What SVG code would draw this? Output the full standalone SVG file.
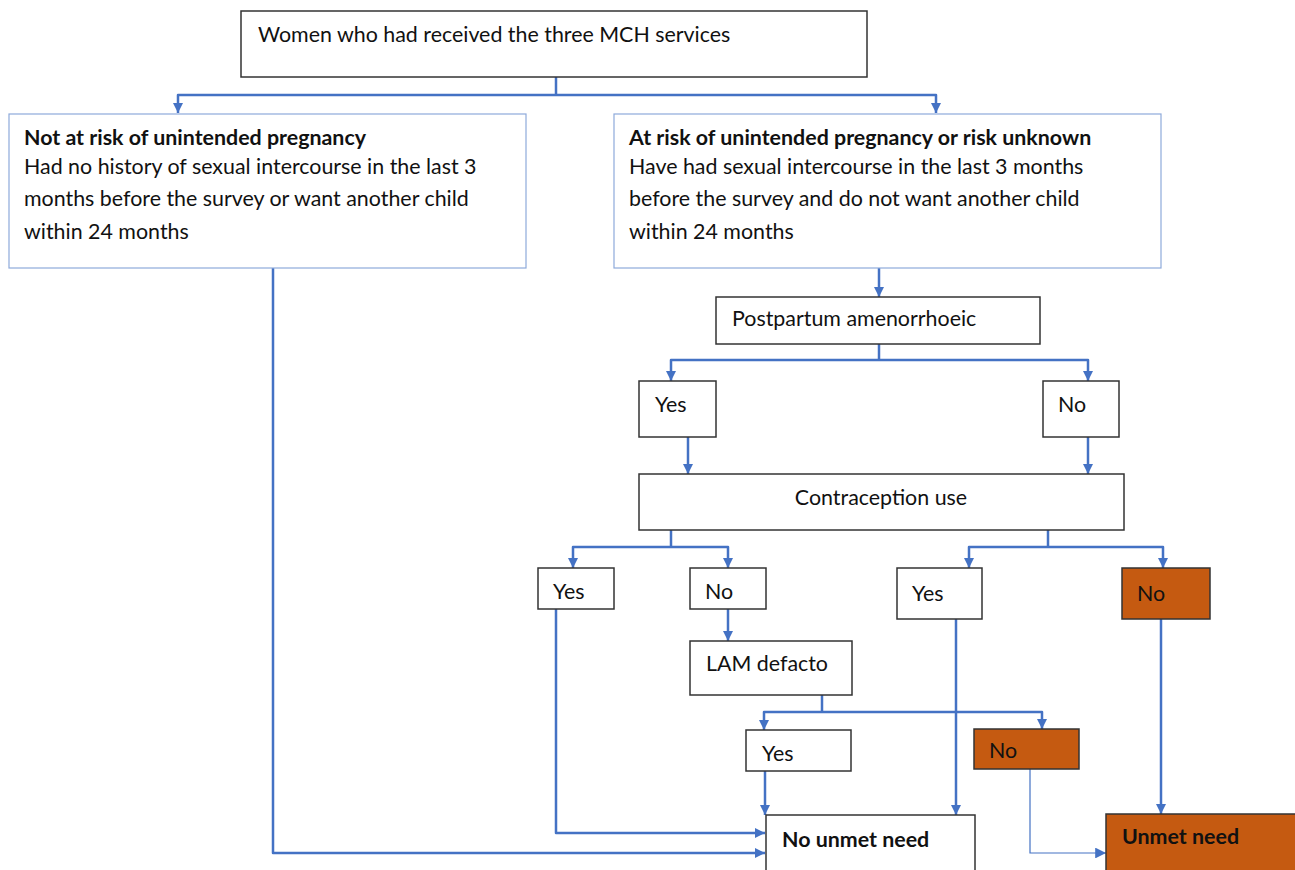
<svg xmlns="http://www.w3.org/2000/svg" width="1295" height="870" viewBox="0 0 1295 870">
<style>
text{font-family:Lato,"Liberation Sans",sans-serif;font-size:21.4px;fill:#111}
.b{font-weight:bold}
.n{fill:#fff;stroke:#333;stroke-width:1.5}
.lb{fill:#fff;stroke:#8eaadb;stroke-width:1.2}
.o{fill:#c55a11;stroke:#333;stroke-width:1.5}
.c{fill:none;stroke:#4472c4;stroke-width:2.5;stroke-linejoin:round}
.t{fill:none;stroke:#4472c4;stroke-width:1.2}
</style>
<defs>
<marker id="a" viewBox="0 0 10 10" refX="10" refY="5" markerWidth="4.2" markerHeight="4.2" markerUnits="strokeWidth" orient="auto"><path d="M0,0L10,5L0,10z" fill="#4472c4"/></marker>
<marker id="a2" viewBox="0 0 10 10" refX="10" refY="5" markerWidth="9" markerHeight="9" markerUnits="strokeWidth" orient="auto"><path d="M0,0L10,5L0,10z" fill="#4472c4"/></marker>
</defs>
<g id="connectors">
<path class="c" d="M556,77V95"/>
<path class="c" d="M556,95H178V113" marker-end="url(#a)"/>
<path class="c" d="M556,95H936V113" marker-end="url(#a)"/>
<path class="c" d="M273,268V853H765" marker-end="url(#a)"/>
<path class="c" d="M879,268V297" marker-end="url(#a)"/>
<path class="c" d="M879,344V360"/>
<path class="c" d="M879,360H671V381" marker-end="url(#a)"/>
<path class="c" d="M879,360H1088V381" marker-end="url(#a)"/>
<path class="c" d="M688,437V474" marker-end="url(#a)"/>
<path class="c" d="M1088,437V474" marker-end="url(#a)"/>
<path class="c" d="M671,530V547"/>
<path class="c" d="M671,547H573V568" marker-end="url(#a)"/>
<path class="c" d="M671,547H728V568" marker-end="url(#a)"/>
<path class="c" d="M1048,530V547"/>
<path class="c" d="M1048,547H969V568" marker-end="url(#a)"/>
<path class="c" d="M1048,547H1163V568" marker-end="url(#a)"/>
<path class="c" d="M556,609V833H765" marker-end="url(#a)"/>
<path class="c" d="M728,609V641" marker-end="url(#a)"/>
<path class="c" d="M822,695V712"/>
<path class="c" d="M822,712H764V730" marker-end="url(#a)"/>
<path class="c" d="M822,712H1042V729" marker-end="url(#a)"/>
<path class="c" d="M765,771V815" marker-end="url(#a)"/>
<path class="c" d="M956,619V815" marker-end="url(#a)"/>
<path class="c" d="M1161,619V814" marker-end="url(#a)"/>
<path class="t" d="M1030,769V853H1106" marker-end="url(#a2)"/>
</g>
<g id="n-root"><rect class="n" x="241" y="11" width="626" height="66"/><text x="258" y="42">Women who had received the three MCH services</text></g>
<g id="n-notrisk"><rect class="lb" x="9" y="114" width="517" height="154"/><text class="b" x="24" y="145">Not at risk of unintended pregnancy</text><text x="24" y="174">Had no history of sexual intercourse in the last 3</text><text x="24" y="206">months before the survey or want another child</text><text x="24" y="239">within 24 months</text></g>
<g id="n-atrisk"><rect class="lb" x="614" y="114" width="547" height="154"/><text class="b" x="629" y="145">At risk of unintended pregnancy or risk unknown</text><text x="629" y="174">Have had sexual intercourse in the last 3 months</text><text x="629" y="206">before the survey and do not want another child</text><text x="629" y="239">within 24 months</text></g>
<g id="n-pp"><rect class="n" x="716" y="297" width="324" height="47"/><text x="732" y="326">Postpartum amenorrhoeic</text></g>
<g id="n-ppyes"><rect class="n" x="639" y="381" width="77" height="56"/><text x="655" y="412">Yes</text></g>
<g id="n-ppno"><rect class="n" x="1043" y="381" width="76" height="56"/><text x="1058" y="412">No</text></g>
<g id="n-cu"><rect class="n" x="639" y="474" width="485" height="56"/><text x="881" y="505" text-anchor="middle">Contraception use</text></g>
<g id="n-cuyes1"><rect class="n" x="538" y="568" width="76" height="41"/><text x="553" y="599">Yes</text></g>
<g id="n-cuno1"><rect class="n" x="690" y="568" width="76" height="41"/><text x="705" y="599">No</text></g>
<g id="n-cuyes2"><rect class="n" x="897" y="568" width="85" height="51"/><text x="912" y="601">Yes</text></g>
<g id="n-cuno2"><rect class="o" x="1122" y="568" width="88" height="51"/><text x="1137" y="601">No</text></g>
<g id="n-lam"><rect class="n" x="690" y="641" width="162" height="54"/><text x="706" y="671">LAM defacto</text></g>
<g id="n-lamyes"><rect class="n" x="746" y="730" width="105" height="41"/><text x="762" y="761">Yes</text></g>
<g id="n-lamno"><rect class="o" x="974" y="729" width="105" height="40"/><text x="989" y="758">No</text></g>
<g id="n-nounmet"><rect class="n" x="766" y="815" width="209" height="70"/><text class="b" x="782" y="847">No unmet need</text></g>
<g id="n-unmet"><rect class="o" x="1106" y="814" width="200" height="70"/><text class="b" x="1122" y="844">Unmet need</text></g>
</svg>
